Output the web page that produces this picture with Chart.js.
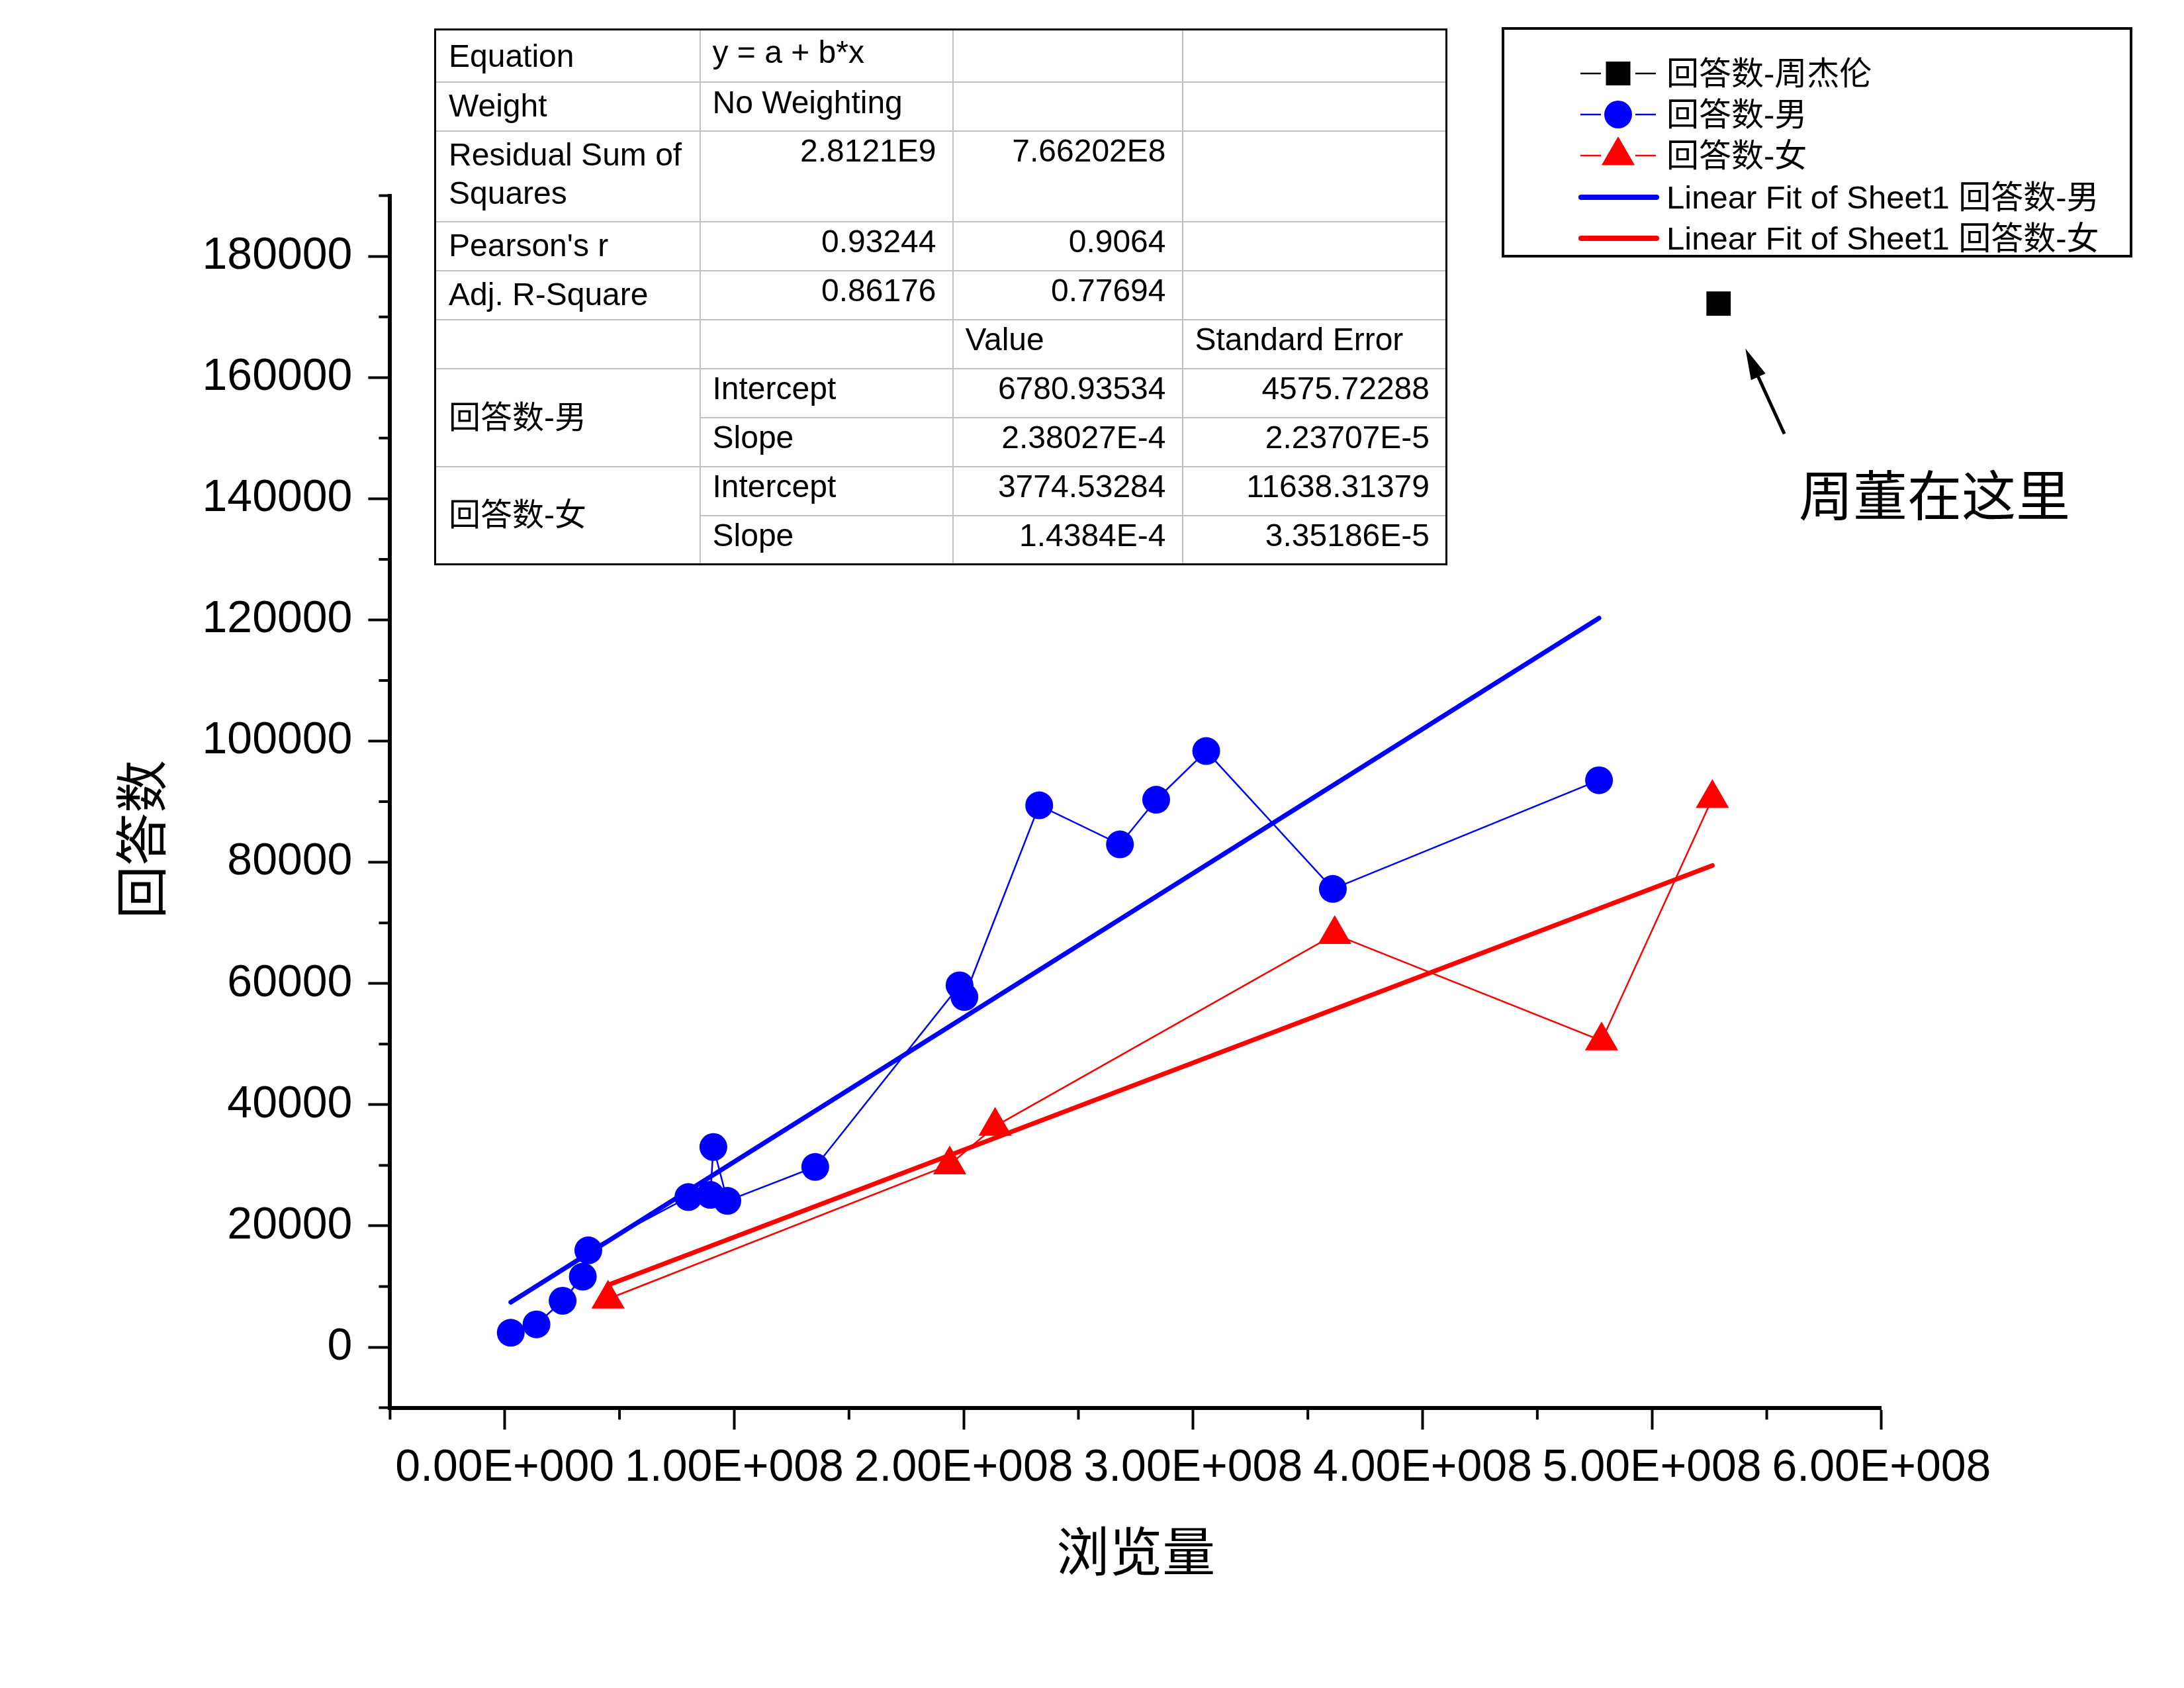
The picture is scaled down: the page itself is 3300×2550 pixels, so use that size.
<!DOCTYPE html>
<html>
<head>
<meta charset="utf-8">
<script src="https://cdn.jsdelivr.net/npm/chart.js@4.4.1/dist/chart.umd.min.js"></script>
<style>
html,body{margin:0;padding:0;background:#fff;}
#wrap{position:relative;width:3300px;height:2550px;overflow:hidden;background:#fff;}
#c{position:absolute;left:0;top:0;}
#stats{position:absolute;left:656px;top:43px;width:1528px;border-collapse:collapse;table-layout:fixed;
  font-family:"Liberation Sans",Arial,"Noto Sans CJK SC",sans-serif;font-size:48px;line-height:58px;color:#000;border:3px solid #000;}
#stats td{border:2px solid #c0c0c0;padding:0 24px 0 18px;vertical-align:top;white-space:nowrap;overflow:visible;box-sizing:border-box;}
#stats td.lab{padding-left:19px;}
#stats td.num{text-align:right;}
#stats td.grp{vertical-align:middle;padding-left:19px;}
#legend{position:absolute;left:2269px;top:41px;width:953px;height:348px;border:4px solid #000;box-sizing:border-box;background:#fff;}
.lrow{position:absolute;left:0;height:60px;width:940px;}
.lrow svg{position:absolute;left:112px;top:2px;}
.lrow span{position:absolute;left:245px;top:0;line-height:60px;font-size:49px;white-space:nowrap;
  font-family:"Liberation Sans",Arial,"Noto Sans CJK SC",sans-serif;color:#000;}
#note{position:absolute;left:2718px;top:703px;font-size:82px;line-height:82px;white-space:nowrap;
  font-family:"Noto Sans CJK SC",sans-serif;color:#000;}
#ytitle{position:absolute;left:208px;top:1268px;font-size:80px;line-height:80px;white-space:nowrap;
  font-family:"Noto Sans CJK SC",sans-serif;color:#000;transform:translate(-50%,-50%) rotate(-90deg);}
</style>
</head>
<body>
<div id="wrap">
  <canvas id="c" width="3300" height="2550"></canvas>
  <table id="stats"></table>
  <div id="legend"></div>
  <div id="note">周董在这里</div>
  <div id="ytitle">回答数</div>
</div>
<script>
// ---------------- data ----------------
const jayX = [5.29e8];
const jayY = [172200];

const maleX = [2.6e6, 13.8e6, 25.2e6, 34.0e6, 36.4e6, 80.0e6, 89.6e6, 90.9e6, 97.0e6, 135.3e6,
               198.2e6, 200.3e6, 232.9e6, 268.1e6, 283.9e6, 305.7e6, 360.9e6, 476.9e6];
const maleY = [2370, 3750, 7650, 11630, 15970, 24760, 25120, 33020, 24140, 29740,
               59710, 57780, 89400, 82960, 90330, 98360, 75610, 93540];

const femaleX = [45.0e6, 193.9e6, 213.7e6, 361.7e6, 478.0e6, 526.3e6];
const femaleY = [7950, 30100, 36450, 68100, 50550, 90550];

// linear-fit line end points (as drawn)
const fitMaleX = [2.6e6, 476.9e6];
const fitMaleY = [7400, 120300];
const fitFemaleX = [45.0e6, 526.3e6];
const fitFemaleY = [10250, 79480];

const seriesLabels = ['回答数-周杰伦', '回答数-男', '回答数-女', 'Linear Fit of Sheet1 回答数-男', 'Linear Fit of Sheet1 回答数-女'];

// axis ticks
const yTicks = [0, 20000, 40000, 60000, 80000, 100000, 120000, 140000, 160000, 180000];
const yTickLabels = ['0', '20000', '40000', '60000', '80000', '100000', '120000', '140000', '160000', '180000'];
const yMinorTicks = [-10000, 10000, 30000, 50000, 70000, 90000, 110000, 130000, 150000, 170000, 190000];
const xTicks = [0, 1e8, 2e8, 3e8, 4e8, 5e8, 6e8];
const xTickLabels = ['0.00E+000', '1.00E+008', '2.00E+008', '3.00E+008', '4.00E+008', '5.00E+008', '6.00E+008'];
const xMinorTicks = [-5e7, 5e7, 1.5e8, 2.5e8, 3.5e8, 4.5e8, 5.5e8];

// fit statistics table
const statLabels = ['Equation', 'Weight', 'Residual Sum of|Squares', "Pearson's r", 'Adj. R-Square'];
const statMale = ['y = a + b*x', 'No Weighting', '2.8121E9', '0.93244', '0.86176'];
const statFemale = ['', '', '7.66202E8', '0.9064', '0.77694'];
const paramHeader = ['Value', 'Standard Error'];
const paramSeries = ['回答数-男', '回答数-女'];
const paramNames = ['Intercept', 'Slope'];
const paramValues = [['6780.93534', '2.38027E-4'], ['3774.53284', '1.4384E-4']];
const paramErrors = [['4575.72288', '2.23707E-5'], ['11638.31379', '3.35186E-5']];

// ---------------- helpers ----------------
const pts = (xs, ys) => xs.map((x, i) => ({x: x, y: ys[i]}));

const minorTicksPlugin = {
  id: 'minorTicks',
  afterDraw(chart) {
    const {ctx, chartArea, scales} = chart;
    ctx.save();
    ctx.strokeStyle = '#000';
    ctx.lineWidth = 4;
    ctx.beginPath();
    yMinorTicks.forEach(v => {
      const p = scales.y.getPixelForValue(v);
      ctx.moveTo(chartArea.left - 17, p); ctx.lineTo(chartArea.left, p);
    });
    xMinorTicks.forEach(v => {
      const p = scales.x.getPixelForValue(v);
      ctx.moveTo(p, chartArea.bottom); ctx.lineTo(p, chartArea.bottom + 18);
    });
    ctx.stroke();
    ctx.restore();
  }
};

const arrowPlugin = {
  id: 'arrowNote',
  afterDraw(chart) {
    const el = chart.getDatasetMeta(0).data[0];
    if (!el) return;
    const ctx = chart.ctx;
    const tip = {x: el.x + 40.5, y: el.y + 68};
    const tail = {x: el.x + 99.4, y: el.y + 197};
    const dx = tail.x - tip.x, dy = tail.y - tip.y;
    const len = Math.hypot(dx, dy);
    const ux = dx / len, uy = dy / len;
    const hl = 47, hw = 12;
    const bx = tip.x + ux * hl, by = tip.y + uy * hl;
    ctx.save();
    ctx.strokeStyle = '#000';
    ctx.fillStyle = '#000';
    ctx.lineWidth = 5;
    ctx.beginPath();
    ctx.moveTo(bx - ux * 4, by - uy * 4);
    ctx.lineTo(tail.x, tail.y);
    ctx.stroke();
    ctx.beginPath();
    ctx.moveTo(tip.x, tip.y);
    ctx.lineTo(bx - uy * hw, by + ux * hw);
    ctx.lineTo(bx + uy * hw, by - ux * hw);
    ctx.closePath();
    ctx.fill();
    ctx.restore();
  }
};

Chart.defaults.font.family = "'Liberation Sans', Arial, sans-serif";
Chart.defaults.color = '#000';

const chart = new Chart(document.getElementById('c'), {
  type: 'scatter',
  data: {
    datasets: [
      {label: seriesLabels[0], data: pts(jayX, jayY), showLine: true, borderColor: '#000000', backgroundColor: '#000000',
       borderWidth: 2.5, pointStyle: 'rect', pointRadius: 26, pointHoverRadius: 26, pointBorderWidth: 0},
      {label: seriesLabels[1], data: pts(maleX, maleY), showLine: true, borderColor: '#0000FF', backgroundColor: '#0000FF',
       borderWidth: 2.5, pointStyle: 'circle', pointRadius: 21, pointHoverRadius: 21, pointBorderWidth: 0, tension: 0},
      {label: seriesLabels[2], data: pts(femaleX, femaleY), showLine: true, borderColor: '#FF0000', backgroundColor: '#FF0000',
       borderWidth: 2.5, pointStyle: 'triangle', pointRadius: 29, pointHoverRadius: 29, pointBorderWidth: 0, tension: 0},
      {label: seriesLabels[3], data: pts(fitMaleX, fitMaleY), showLine: true, borderColor: '#0000FF', backgroundColor: '#0000FF',
       borderWidth: 7, pointRadius: 0, pointHoverRadius: 0, borderCapStyle: 'round'},
      {label: seriesLabels[4], data: pts(fitFemaleX, fitFemaleY), showLine: true, borderColor: '#FF0000', backgroundColor: '#FF0000',
       borderWidth: 7, pointRadius: 0, pointHoverRadius: 0, borderCapStyle: 'round'}
    ]
  },
  options: {
    responsive: false,
    devicePixelRatio: 1,
    animation: false,
    events: [],
    layout: {padding: {left: 0, top: 295.6, right: 457.1, bottom: 0}},
    plugins: {legend: {display: false}, tooltip: {enabled: false}, title: {display: false}},
    scales: {
      x: {
        type: 'linear', position: 'bottom', min: -5e7, max: 6e8,
        afterFit: s => { s.height = 423.4; },
        afterBuildTicks: s => { s.ticks = xTicks.map(v => ({value: v})); },
        grid: {display: true, drawOnChartArea: false, drawTicks: true, tickLength: 33, tickWidth: 4, tickColor: '#000'},
        border: {display: true, color: '#000', width: 6},
        ticks: {
          autoSkip: false, maxRotation: 0, minRotation: 0, padding: 18, color: '#000',
          font: {size: 68, family: "'Liberation Sans', Arial, sans-serif"},
          callback: v => { const i = xTicks.indexOf(v); return i >= 0 ? xTickLabels[i] : ''; }
        },
        title: {display: true, text: '浏览量', color: '#000',
                font: {size: 80, family: "'Noto Sans CJK SC', sans-serif"}, padding: {top: 0, bottom: 159}}
      },
      y: {
        type: 'linear', position: 'left', min: -10000, max: 190000,
        afterFit: s => { s.width = 589.4; },
        afterBuildTicks: s => { s.ticks = yTicks.map(v => ({value: v})); },
        grid: {display: true, drawOnChartArea: false, drawTicks: true, tickLength: 33, tickWidth: 4, tickColor: '#000'},
        border: {display: true, color: '#000', width: 6},
        ticks: {
          autoSkip: false, padding: 24, color: '#000',
          font: {size: 68, family: "'Liberation Sans', Arial, sans-serif"},
          callback: v => { const i = yTicks.indexOf(v); return i >= 0 ? yTickLabels[i] : ''; }
        },
        title: {display: false}
      }
    }
  },
  plugins: [minorTicksPlugin, arrowPlugin]
});

// ---------------- legend (built from datasets) ----------------
(function buildLegend() {
  const rowCenters = [65.5, 128, 190, 253, 314.5];
  const box = document.getElementById('legend');
  chart.data.datasets.forEach((ds, i) => {
    const c = ds.borderColor;
    let svg = '<svg width="122" height="56" viewBox="0 0 122 56" xmlns="http://www.w3.org/2000/svg">';
    if (ds.pointRadius > 0) {
      svg += `<line x1="3" y1="28" x2="34" y2="28" stroke="${c}" stroke-width="2.5"/>`;
      svg += `<line x1="86" y1="28" x2="117" y2="28" stroke="${c}" stroke-width="2.5"/>`;
      if (ds.pointStyle === 'rect') {
        svg += `<rect x="41.5" y="10" width="37" height="36" fill="${c}"/>`;
      } else if (ds.pointStyle === 'circle') {
        svg += `<circle cx="60" cy="28" r="21" fill="${c}"/>`;
      } else if (ds.pointStyle === 'triangle') {
        svg += `<polygon points="60,-1 85.1,42.5 34.9,42.5" fill="${c}"/>`;
      }
    } else {
      svg += `<line x1="4" y1="28" x2="118" y2="28" stroke="${c}" stroke-width="8" stroke-linecap="round"/>`;
    }
    svg += '</svg>';
    const row = document.createElement('div');
    row.className = 'lrow';
    row.style.top = (rowCenters[i] - 30) + 'px';
    row.innerHTML = svg + '<span>' + ds.label + '</span>';
    box.appendChild(row);
  });
})();

// ---------------- statistics table ----------------
(function buildTable() {
  const rowH = [79, 74, 137, 74, 74, 74, 74, 74, 74, 74];
  let h = '<colgroup><col style="width:400px"><col style="width:382px"><col style="width:347px"><col style="width:399px"></colgroup>';
  for (let i = 0; i < statLabels.length; i++) {
    const labPad = i === 0 ? 10 : 6;
    const cls = i < 2 ? 'txt' : 'num';
    const valPad = i === 0 ? 4 : (i === 1 ? 1 : 0);
    h += `<tr style="height:${rowH[i]}px">` +
         `<td class="lab" style="padding-top:${labPad}px">${statLabels[i].replace('|', '<br>')}</td>` +
         `<td class="${cls}" style="padding-top:${valPad}px">${statMale[i]}</td>` +
         `<td class="num">${statFemale[i]}</td><td></td></tr>`;
  }
  h += `<tr style="height:${rowH[5]}px"><td></td><td></td><td class="txt">${paramHeader[0]}</td><td class="txt">${paramHeader[1]}</td></tr>`;
  for (let s = 0; s < paramSeries.length; s++) {
    for (let p = 0; p < paramNames.length; p++) {
      const r = 6 + s * 2 + p;
      h += `<tr style="height:${rowH[r]}px">`;
      if (p === 0) h += `<td class="grp" rowspan="2">${paramSeries[s]}</td>`;
      h += `<td class="txt" style="padding-top:0px">${paramNames[p]}</td>` +
           `<td class="num" style="padding-top:0px">${paramValues[s][p]}</td>` +
           `<td class="num" style="padding-top:0px">${paramErrors[s][p]}</td></tr>`;
    }
  }
  document.getElementById('stats').innerHTML = h;
})();
</script>
</body>
</html>
